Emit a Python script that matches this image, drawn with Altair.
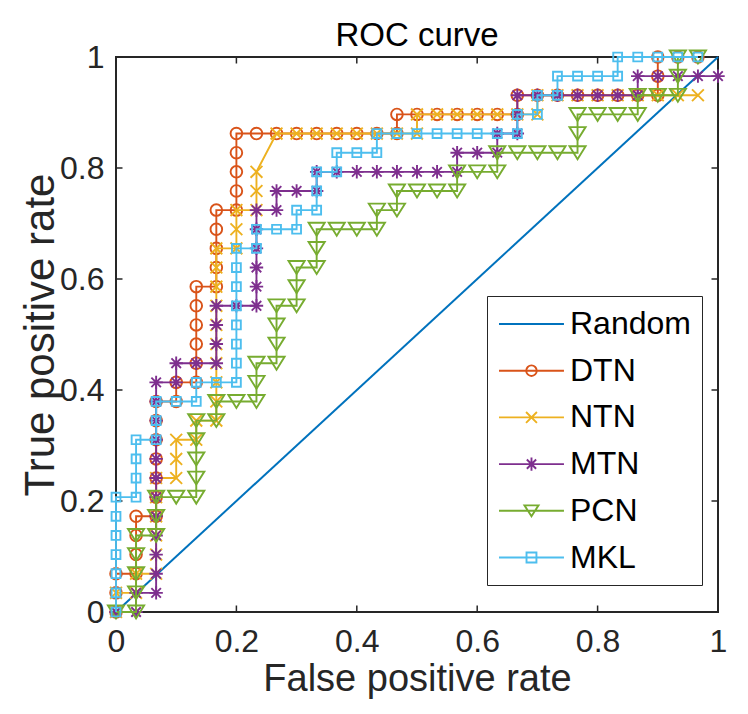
import altair as alt
import pandas as pd

FONT = "Liberation Sans"
N_NEG = 30
N_POS = 29

names = ["Random", "DTN", "NTN", "MTN", "PCN", "MKL"]
colors = ["#0072BD", "#D95319", "#EDB120", "#7E2F8E", "#77AC30", "#4DBEEE"]

random_fpr = [0, 1]
random_tpr = [0, 1]

dtn_fp = [0, 0, 0, 1, 1, 1, 1, 2, 2, 2, 2, 2, 2, 2, 3, 3, 4, 4, 4, 4, 4, 4, 5, 5, 5, 5, 5,
          6, 6, 6, 6, 6, 7, 8, 9, 10, 11, 12, 13, 14, 14, 15, 16, 17, 18, 19, 20, 20,
          21, 22, 23, 24, 25, 26, 27, 27, 27, 28, 29]
dtn_tp = [0, 1, 2, 2, 3, 4, 5, 5, 6, 7, 8, 9, 10, 11, 11, 12, 12, 13, 14, 15, 16, 17, 17, 18, 19, 20, 21,
          21, 22, 23, 24, 25, 25, 25, 25, 25, 25, 25, 25, 25, 26, 26, 26, 26, 26, 26, 26, 27,
          27, 27, 27, 27, 27, 27, 27, 28, 29, 29, 29]

ntn_fp = [0, 0, 1, 1, 2, 2, 2, 2, 2, 2, 3, 3, 3, 4, 4, 5, 5, 5, 5, 5, 5, 5, 5, 5, 5,
          6, 6, 6, 7, 7, 7, 8, 9, 10, 11, 12, 13, 14, 15, 15, 16, 17, 18, 19, 20, 21,
          21, 22, 23, 24, 25, 26, 27, 28, 29]
ntn_tp = [0, 1, 1, 2, 2, 3, 4, 5, 6, 7, 7, 8, 9, 9, 10, 10, 11, 12, 13, 14, 15, 16, 17, 18, 19,
          19, 20, 21, 21, 22, 23, 25, 25, 25, 25, 25, 25, 25, 25, 26, 26, 26, 26, 26, 26, 26,
          27, 27, 27, 27, 27, 27, 27, 27, 27]

mtn_fp = [0, 1, 1, 2, 2, 2, 2, 2, 2, 2, 2, 2, 2, 2, 2, 3, 3, 4, 5, 5, 5, 5, 6, 7, 7, 7, 7, 7, 7,
          8, 8, 9, 10, 10, 11, 12, 13, 14, 15, 16, 17, 17, 18, 19, 19, 20, 20, 20,
          21, 22, 23, 24, 25, 26, 26, 27, 28, 29, 30]
mtn_tp = [0, 0, 1, 1, 2, 3, 4, 5, 6, 7, 8, 9, 10, 11, 12, 12, 13, 13, 13, 14, 15, 16, 16, 16, 17, 18, 19, 20, 21,
          21, 22, 22, 22, 23, 23, 23, 23, 23, 23, 23, 23, 24, 24, 24, 25, 25, 26, 27,
          27, 27, 27, 27, 27, 27, 28, 28, 28, 28, 28]

pcn_fp = [0, 1, 1, 1, 1, 1, 2, 2, 2, 3, 4, 4, 4, 4, 4, 5, 5, 6, 7, 7, 7, 8, 8, 8, 8, 9, 9, 9,
          10, 10, 10, 11, 12, 13, 13, 14, 14, 15, 16, 17, 17, 18, 19, 19, 20, 21, 22, 23,
          23, 23, 24, 25, 26, 26, 27, 28, 28, 28, 29]
pcn_tp = [0, 0, 1, 2, 3, 4, 4, 5, 6, 6, 6, 7, 8, 9, 10, 10, 11, 11, 11, 12, 13, 13, 14, 15, 16, 16, 17, 18,
          18, 19, 20, 20, 20, 20, 21, 21, 22, 22, 22, 22, 23, 23, 23, 24, 24, 24, 24, 24,
          25, 26, 26, 26, 26, 27, 27, 27, 28, 29, 29]

mkl_fp = [0, 0, 0, 0, 0, 0, 0, 1, 1, 1, 1, 2, 2, 2, 3, 4, 4, 5, 6, 6, 6, 6, 6, 6, 6, 6,
          7, 7, 8, 9, 9, 10, 10, 10, 11, 11, 12, 13, 13, 14, 15, 16, 17, 18, 19, 20, 20,
          21, 21, 22, 22, 23, 24, 25, 25, 26, 27, 28, 29]
mkl_tp = [0, 1, 2, 3, 4, 5, 6, 6, 7, 8, 9, 9, 10, 11, 11, 11, 12, 12, 12, 13, 14, 15, 16, 17, 18, 19,
          19, 20, 20, 20, 21, 21, 22, 23, 23, 24, 24, 24, 25, 25, 25, 25, 25, 25, 25, 25, 26,
          26, 27, 27, 28, 28, 28, 28, 29, 29, 29, 29, 29]

axis_ticks = [0, 0.2, 0.4, 0.6, 0.8, 1]

series_fp = [dtn_fp, ntn_fp, mtn_fp, pcn_fp, mkl_fp]
series_tp = [dtn_tp, ntn_tp, mtn_tp, pcn_tp, mkl_tp]

# marker styles (plot)
marker_shapes = [
    "circle",
    "M-1,-1L1,1M-1,1L1,-1",
    "M0,-1L0,1M-1,0L1,0M-0.71,-0.71L0.71,0.71M-0.71,0.71L0.71,-0.71",
    "M-1,-0.8L1,-0.8L0,0.8Z",
    "square",
]
marker_sizes = [135, 140, 180, 260, 78]

# legend symbols: line + marker; unit = 16px, symbol centre at 17px from entry left
legend_shapes = [
    "M-1,0L3.06,0",
    "M-1,0L3.06,0M1.36,0A0.33,0.33,0,1,1,0.70,0A0.33,0.33,0,1,1,1.36,0",
    "M-1,0L3.06,0M0.69,-0.34L1.37,0.34M0.69,0.34L1.37,-0.34",
    "M-1,0L3.06,0M1.03,-0.41L1.03,0.41M0.74,-0.29L1.32,0.29M0.74,0.29L1.32,-0.29",
    "M-1,0L3.06,0M0.59,-0.34L1.47,-0.34L1.03,0.34Z",
    "M-1,0L3.06,0M0.72,-0.31L1.34,-0.31L1.34,0.31L0.72,0.31Z",
]

W, H = 602, 555
TICK = 6.5
INK = "#262626"

x_enc = alt.X(
    "fpr:Q",
    scale=alt.Scale(domain=[0, 1], nice=False, zero=False),
    axis=alt.Axis(values=axis_ticks, format="~g", title="False positive rate",
                  labelPadding=14, titleY=78, titleBaseline="alphabetic",
                  labelFlush=False, labelOverlap=False),
)
y_enc = alt.Y(
    "tpr:Q",
    scale=alt.Scale(domain=[0, 1], nice=False, zero=False),
    axis=alt.Axis(values=axis_ticks, format="~g", title="True positive rate",
                  labelPadding=12, titleX=-63, titleAngle=270, titleBaseline="alphabetic",
                  titleFontSize=42, labelFlush=False, labelOverlap=False),
)

layers = []

# inner tick marks on all four sides
xt = pd.DataFrame({"fpr": axis_ticks})
yt = pd.DataFrame({"tpr": axis_ticks})
rule_style = dict(color=INK, strokeWidth=1.5)
layers.append(alt.Chart(xt).mark_rule(**rule_style).encode(x=x_enc, y=alt.value(H), y2=alt.value(H - TICK)))
layers.append(alt.Chart(xt).mark_rule(**rule_style).encode(x=x_enc, y=alt.value(0), y2=alt.value(TICK)))
layers.append(alt.Chart(yt).mark_rule(**rule_style).encode(y=y_enc, x=alt.value(0), x2=alt.value(TICK)))
layers.append(alt.Chart(yt).mark_rule(**rule_style).encode(y=y_enc, x=alt.value(W), x2=alt.value(W - TICK)))

# random diagonal
rdf = pd.DataFrame({"fpr": random_fpr, "tpr": random_tpr, "idx": [0, 1]})
layers.append(alt.Chart(rdf).mark_line(color=colors[0], strokeWidth=2).encode(
    x=x_enc, y=y_enc, order="idx:Q"))

for i in range(5):
    fp = series_fp[i]
    tp = series_tp[i]
    df = pd.DataFrame({
        "fpr": [v / N_NEG for v in fp],
        "tpr": [v / N_POS for v in tp],
        "idx": list(range(len(fp))),
    })
    c = colors[i + 1]
    layers.append(alt.Chart(df).mark_line(color=c, strokeWidth=1.9).encode(
        x=x_enc, y=y_enc, order="idx:Q"))
    layers.append(alt.Chart(df).mark_point(
        shape=marker_shapes[i], size=marker_sizes[i], color=c, filled=False,
        strokeWidth=1.9, opacity=1).encode(x=x_enc, y=y_enc))

legend = alt.Legend(
    title=None, orient="none", legendX=371, legendY=239,
    symbolSize=1024, symbolStrokeWidth=1.9, labelFont=FONT, labelFontSize=32,
    labelColor="#000000", labelOffset=38, labelLimit=400, rowPadding=13.7,
    padding=11, strokeColor=INK, fillColor="#ffffff", cornerRadius=0,
)
leg_df = pd.DataFrame({"series": names})
layers.append(
    alt.Chart(leg_df).transform_filter("false").mark_point(filled=False, strokeWidth=1.9, opacity=1).encode(
        color=alt.Color("series:N", scale=alt.Scale(domain=names, range=colors), legend=legend),
        shape=alt.Shape("series:N", scale=alt.Scale(domain=names, range=legend_shapes), legend=legend),
    )
)

chart = alt.layer(*layers).properties(
    width=W, height=H,
    title=alt.TitleParams("ROC curve", font=FONT, fontSize=33, fontWeight="normal",
                          color="#000000", anchor="middle", frame="group", offset=10, dy=22),
    padding={"left": 108, "top": 49, "right": 22, "bottom": 94},
    autosize=alt.AutoSizeParams(type="none"),
).configure_view(
    stroke=INK, strokeWidth=2
).configure_axis(
    labelFont=FONT, labelFontSize=32, labelColor=INK,
    titleFont=FONT, titleFontSize=38, titleFontWeight="normal", titleColor=INK,
    grid=False, domain=False, ticks=False, tickSize=0,
)

chart.save("out.html", embed_options={"renderer": "svg", "actions": False})
